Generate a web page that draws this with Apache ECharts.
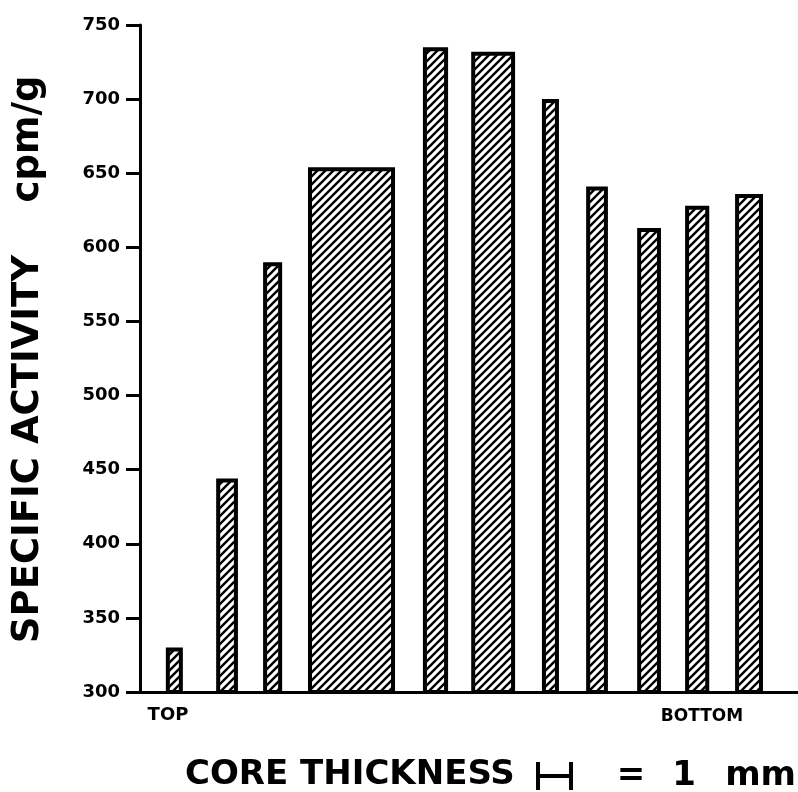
<!DOCTYPE html>
<html>
<head>
<meta charset="utf-8">
<script src="https://cdn.jsdelivr.net/npm/echarts@6/dist/echarts.min.js"></script>
<style>
  html, body { margin: 0; padding: 0; background: #fff; }
  #chart { width: 798px; height: 792px; }
</style>
</head>
<body>
<div id="chart"></div>
<script>
// core slices, depth in mm from the top of the core
var sliceStart = [0.76, 2.24, 3.62, 4.94, 8.32, 9.74, 11.82, 13.12, 14.62, 16.03, 17.50];
var sliceEnd   = [1.26, 2.88, 4.18, 7.50, 9.06, 11.03, 12.32, 13.76, 15.32, 16.74, 18.32];
var activity   = [330, 444, 590, 654, 735, 732, 700, 641, 613, 628, 636];
var yTicks     = [300, 350, 400, 450, 500, 550, 600, 650, 700, 750];

var FONT = 'DejaVu Sans';

// diagonal hatch fill
function makeHatch() {
    var s = 8;
    var c = document.createElement('canvas');
    c.width = s; c.height = s;
    var g = c.getContext('2d');
    g.fillStyle = '#fff';
    g.fillRect(0, 0, s, s);
    g.strokeStyle = '#000';
    g.lineWidth = 2.4;
    g.beginPath();
    g.moveTo(-1, s + 1); g.lineTo(s + 1, -1);
    g.moveTo(-1, 1); g.lineTo(1, -1);
    g.moveTo(s - 1, s + 1); g.lineTo(s + 1, s - 1);
    g.stroke();
    return c;
}
var hatch = makeHatch();

var data = [];
for (var i = 0; i < activity.length; i++) {
    data.push([sliceStart[i], sliceEnd[i], activity[i]]);
}

var myChart = echarts.init(document.getElementById('chart'));
myChart.setOption({
    animation: false,
    backgroundColor: '#fff',
    grid: { left: 140, right: 0, top: 25, bottom: 100 },
    xAxis: {
        type: 'value',
        min: 0,
        max: 19.35,
        axisLine: { show: true, lineStyle: { color: '#000', width: 3 } },
        axisTick: { show: false },
        axisLabel: { show: false },
        splitLine: { show: false }
    },
    yAxis: {
        type: 'value',
        min: yTicks[0],
        max: yTicks[yTicks.length - 1],
        interval: 50,
        axisLine: { show: true, lineStyle: { color: '#000', width: 3 } },
        axisTick: { show: true, length: 14, lineStyle: { color: '#000', width: 3 } },
        axisLabel: {
            color: '#000', fontFamily: FONT, fontWeight: 'bold', fontSize: 18, margin: 20
        },
        splitLine: { show: false }
    },
    series: [{
        type: 'custom',
        data: data,
        encode: { x: [0, 1], y: 2 },
        renderItem: function (params, api) {
            var p0 = api.coord([api.value(0), api.value(2)]);
            var p1 = api.coord([api.value(1), 300]);
            return {
                type: 'rect',
                shape: {
                    x: p0[0] + 2,
                    y: p0[1] + 2,
                    width: p1[0] - p0[0] - 4,
                    height: p1[1] - p0[1] - 2
                },
                style: {
                    fill: { image: hatch, repeat: 'repeat' },
                    stroke: '#000',
                    lineWidth: 4
                }
            };
        }
    }],
    graphic: [
        {
            type: 'text', x: 28, y: 449, rotation: Math.PI / 2,
            style: { text: 'SPECIFIC ACTIVITY', font: 'bold 37px ' + FONT, fill: '#000',
                     align: 'center', verticalAlign: 'middle' }
        },
        {
            type: 'text', x: 28, y: 139, rotation: Math.PI / 2,
            style: { text: 'cpm/g', font: 'bold 37px ' + FONT, fill: '#000',
                     align: 'center', verticalAlign: 'middle' }
        },
        {
            type: 'text', x: 168, y: 715,
            style: { text: 'TOP', font: 'bold 18px ' + FONT, fill: '#000',
                     align: 'center', verticalAlign: 'middle' }
        },
        {
            type: 'text', x: 702, y: 717,
            style: { text: 'BOTTOM', font: 'bold 17px ' + FONT, fill: '#000',
                     align: 'center', verticalAlign: 'middle' }
        },
        {
            type: 'text', x: 185, y: 775,
            style: { text: 'CORE THICKNESS', font: 'bold 34px ' + FONT, fill: '#000',
                     align: 'left', verticalAlign: 'middle' }
        },
        {
            type: 'polyline',
            shape: { points: [[538, 762], [538, 790]] },
            style: { stroke: '#000', lineWidth: 4 }
        },
        {
            type: 'polyline',
            shape: { points: [[538, 776], [571, 776]] },
            style: { stroke: '#000', lineWidth: 4 }
        },
        {
            type: 'polyline',
            shape: { points: [[571, 762], [571, 790]] },
            style: { stroke: '#000', lineWidth: 4 }
        },
        {
            type: 'text', x: 631, y: 776,
            style: { text: '=', font: 'bold 34px ' + FONT, fill: '#000',
                     align: 'center', verticalAlign: 'middle' }
        },
        {
            type: 'text', x: 684, y: 776,
            style: { text: '1', font: 'bold 34px ' + FONT, fill: '#000',
                     align: 'center', verticalAlign: 'middle' }
        },
        {
            type: 'text', x: 796, y: 776,
            style: { text: 'mm', font: 'bold 34px ' + FONT, fill: '#000',
                     align: 'right', verticalAlign: 'middle' }
        }
    ]
});
</script>
</body>
</html>
